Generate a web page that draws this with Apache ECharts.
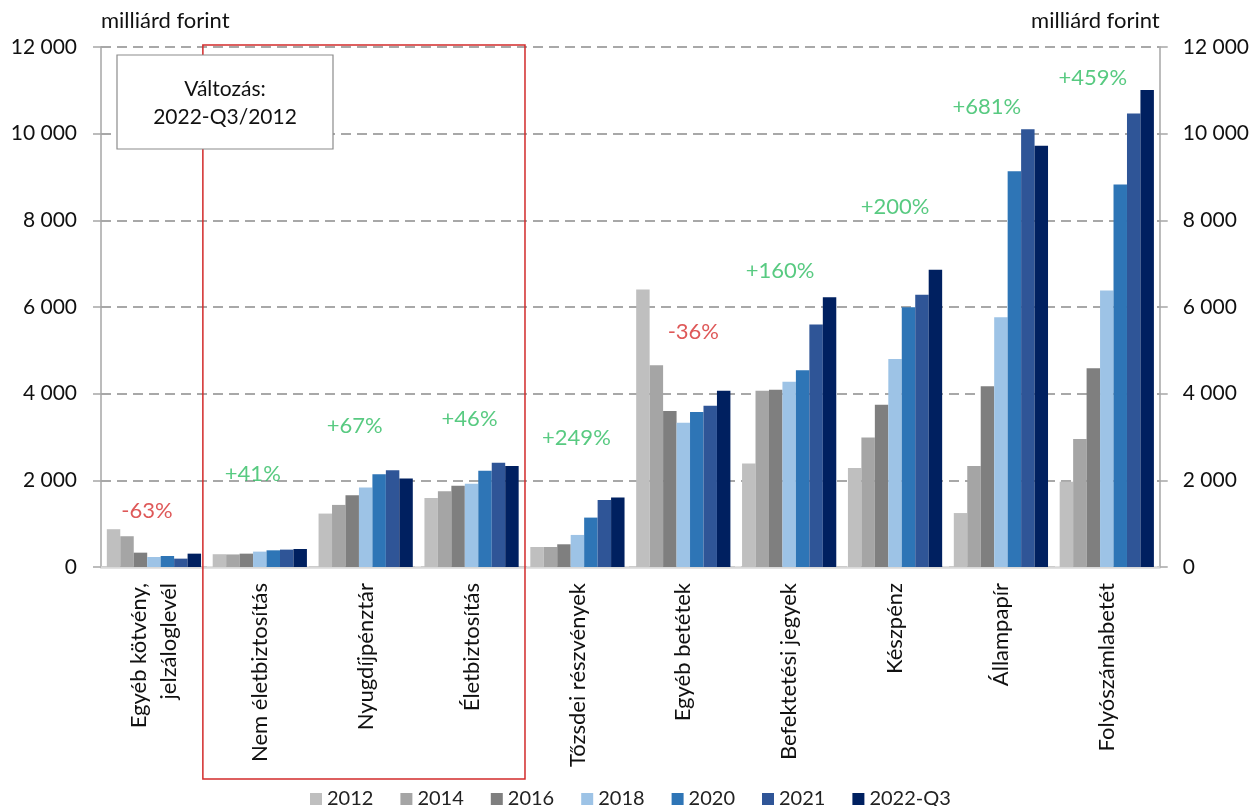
<!DOCTYPE html>
<html>
<head>
<meta charset="utf-8">
<script src="https://cdn.jsdelivr.net/npm/echarts@6/dist/echarts.min.js"></script>
<style>
  html, body { margin: 0; padding: 0; background: #fff; }
  #chart { width: 1252px; height: 806px; }
</style>
</head>
<body>
<div id="chart"></div>
<script>
const categories = [
  'Egyéb kötvény,\njelzáloglevél', 'Nem életbiztosítás', 'Nyugdíjpénztár', 'Életbiztosítás',
  'Tőzsdei részvények', 'Egyéb betétek', 'Befektetési jegyek', 'Készpénz', 'Állampapír', 'Folyószámlabetét'
];
const years = ['2012', '2014', '2016', '2018', '2020', '2021', '2022-Q3'];
const v2012 = [872, 295, 1233, 1595, 462, 6405, 2389, 2282, 1245, 1965];
const v2014 = [710, 290, 1433, 1750, 462, 4655, 4069, 2990, 2328, 2952];
const v2016 = [331, 308, 1657, 1873, 524, 3600, 4092, 3746, 4170, 4586];
const v2018 = [231, 355, 1834, 1919, 740, 3330, 4277, 4802, 5765, 6382];
const v2020 = [254, 385, 2143, 2220, 1140, 3577, 4539, 5996, 9133, 8825];
const v2021 = [193, 401, 2235, 2405, 1549, 3723, 5595, 6282, 10104, 10467];
const v2022q3 = [308, 416, 2042, 2328, 1603, 4069, 6227, 6860, 9719, 11006];
const changeLabels = ['-63%', '+41%', '+67%', '+46%', '+249%', '-36%', '+160%', '+200%', '+681%', '+459%'];
const changeLabelAt = [1295, 2150, 3260, 3420, 2990, 5417, 6844, 8308, 10620, 11277];
const yTicks = [0, 2000, 4000, 6000, 8000, 10000, 12000];

const seriesValues = [v2012, v2014, v2016, v2018, v2020, v2021, v2022q3];
const colors = ['#BFBFBF', '#A5A5A5', '#7F7F7F', '#9DC3E6', '#2E75B6', '#2F5597', '#002060'];
const FONT = 'Lato';
const fmt = v => String(v).replace(/\B(?=(\d{3})+(?!\d))/g, ' ');
// small horizontal nudges of the change labels (px), as in the original layout
const labelNudge = [-7, -7, -11, -2, -1, 10, -9, 0, -14, -14];

const chart = echarts.init(document.getElementById('chart'), null, { renderer: 'canvas' });

const barSeries = years.map((y, i) => ({
  name: y,
  type: 'bar',
  data: seriesValues[i],
  itemStyle: { color: colors[i] },
  barGap: '0%',
  barCategoryGap: '11%',
  z: 3
}));

const labelSeries = {
  name: 'change',
  type: 'scatter',
  symbolSize: 0,
  silent: true,
  z: 5,
  data: changeLabelAt.map((v, i) => ({
    value: [categories[i], v],
    label: {
      color: changeLabels[i].startsWith('-') ? '#D62E2E' : '#2EBD62',
      offset: [labelNudge[i], 0]
    }
  })),
  label: {
    show: true,
    position: 'inside',
    fontFamily: FONT,
    fontSize: 22,
    formatter: p => changeLabels[p.dataIndex]
  }
};

const axisLineStyle = { color: '#A6A6A6', width: 1.5 };

const yAxisBase = {
  type: 'value',
  min: yTicks[0],
  max: yTicks[yTicks.length - 1],
  interval: 2000,
  name: 'milliárd forint',
  nameLocation: 'end',
  nameGap: 15,
  axisLine: { show: true, lineStyle: axisLineStyle },
  axisTick: { show: true, length: 8, lineStyle: axisLineStyle },
  axisLabel: { fontFamily: FONT, fontSize: 21, color: '#111', formatter: fmt, margin: 24 }
};

const opt = {
  animation: false,
  color: colors,
  grid: { left: 101, right: 92, top: 47, bottom: 239, containLabel: false },
  legend: {
    data: years,
    top: 784,
    left: 305,
    itemWidth: 12,
    itemHeight: 12,
    itemGap: 27,
    icon: 'rect',
    textStyle: { fontFamily: FONT, fontSize: 20, color: '#222' }
  },
  xAxis: {
    type: 'category',
    data: categories,
    axisLine: { show: true, lineStyle: { color: '#D9D9D9', width: 2.5 } },
    axisTick: { show: false },
    axisLabel: {
      rotate: 90,
      interval: 0,
      margin: 16,
      fontFamily: FONT,
      fontSize: 22,
      color: '#111',
      lineHeight: 30
    }
  },
  yAxis: [
    Object.assign({}, yAxisBase, {
      position: 'left',
      nameTextStyle: { fontFamily: FONT, fontSize: 22, color: '#111', align: 'left' },
      splitLine: { show: true, lineStyle: { color: '#8C8C8C', type: [10, 6], width: 1.5 } }
    }),
    Object.assign({}, yAxisBase, {
      position: 'right',
      nameTextStyle: { fontFamily: FONT, fontSize: 22, color: '#111', align: 'right' },
      splitLine: { show: false },
      axisLabel: { fontFamily: FONT, fontSize: 21, color: '#111', formatter: fmt, margin: 23 }
    })
  ],
  series: barSeries.concat([labelSeries])
};

chart.setOption(opt);

// red frame around the insurance / pension groups, from category band edges
const c0 = chart.convertToPixel({ xAxisIndex: 0 }, categories[0]);
const c1 = chart.convertToPixel({ xAxisIndex: 0 }, categories[1]);
const c3 = chart.convertToPixel({ xAxisIndex: 0 }, categories[3]);
const band = c1 - c0;
const topY = chart.convertToPixel({ yAxisIndex: 0 }, yTicks[yTicks.length - 1]);
const boxLeft = c1 - band / 2 - 4;
const boxRight = c3 + band / 2 + 0.5;

chart.setOption({
  graphic: [
    {
      type: 'rect',
      z: 10,
      shape: { x: boxLeft, y: topY - 2, width: boxRight - boxLeft, height: 779 - (topY - 2) },
      style: { fill: 'none', stroke: '#D22B2B', lineWidth: 1.5 }
    },
    {
      type: 'rect',
      z: 11,
      shape: { x: 117, y: 55, width: 216, height: 94 },
      style: { fill: '#fff', stroke: '#8C8C8C', lineWidth: 1.2 }
    },
    {
      type: 'text',
      z: 12,
      x: 225,
      y: 75,
      style: {
        text: 'Változás:\n2022-Q3/2012',
        fontFamily: FONT,
        fontSize: 21,
        lineHeight: 28,
        fill: '#111',
        align: 'center',
        verticalAlign: 'top'
      }
    }
  ]
});
</script>
</body>
</html>
